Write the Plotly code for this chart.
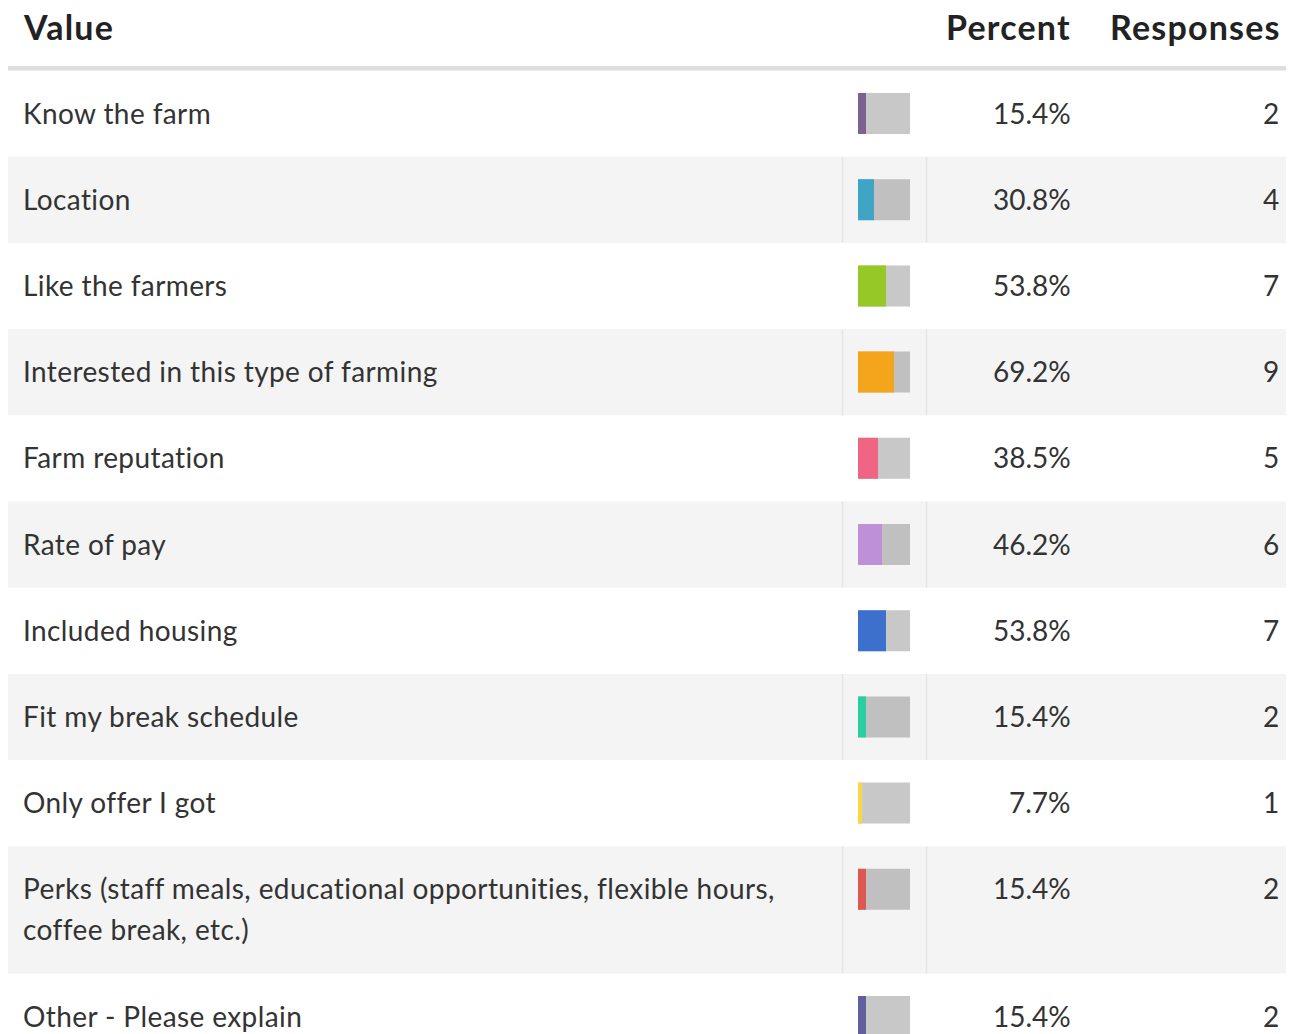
import plotly.graph_objects as go

labels = [
    "Know the farm",
    "Location",
    "Like the farmers",
    "Interested in this type of farming",
    "Farm reputation",
    "Rate of pay",
    "Included housing",
    "Fit my break schedule",
    "Only offer I got",
    "Perks (staff meals, educational opportunities, flexible hours,\ncoffee break, etc.)",
    "Other - Please explain",
]
percents = [15.4, 30.8, 53.8, 69.2, 38.5, 46.2, 53.8, 15.4, 7.7, 15.4, 15.4]
responses = [2, 4, 7, 9, 5, 6, 7, 2, 1, 2, 2]
colors = ["#7c6193", "#40a4c4", "#96c828", "#f4a51c", "#f06584", "#be90d8",
          "#3d6fcc", "#2acfa0", "#fcd545", "#dd5850", "#625f9e"]
headers = ["Value", "Percent", "Responses"]

W, H = 1294, 1034
OFF = 8  # page body margin compensation
FONT = "Lato, 'Open Sans', sans-serif"
ROW_H = 86.2
LINE_H = 41
BAR_X0, BAR_W, BAR_H = 858, 52, 41
BODY_SIZE = 28
HEAD_SIZE = 34


def spaced(t, px):
    return f'<span style="letter-spacing:{px}px">{t}</span>'


fig = go.Figure()
shapes = []
annotations = []

# header
shapes.append(dict(type="rect", xref="x", yref="y", x0=6, x1=W + OFF, y0=66, y1=70.5,
                   fillcolor="#dedede", line_width=0, layer="below"))
head = [
    dict(x=21, y=26, text=spaced(headers[0], 1.2), xanchor="left", yanchor="middle"),
    dict(x=1073, y=26, text=spaced(headers[1], 1.2), xanchor="right", yanchor="middle"),
    dict(x=1283, y=26, text=spaced(headers[2], 1.2), xanchor="right", yanchor="middle"),
]
for a in head:
    a.update(showarrow=False, font=dict(family=FONT, size=HEAD_SIZE, color="#222222", weight="bold"))
annotations += head

top = 70.5
for i, (lab, pct, resp, col) in enumerate(zip(labels, percents, responses, colors)):
    lines = lab.split("\n")
    h = ROW_H + (len(lines) - 1) * LINE_H
    gray = i % 2 == 1
    if gray:
        shapes.append(dict(type="rect", xref="x", yref="y", x0=6, x1=W + OFF, y0=top, y1=top + h,
                           fillcolor="#f4f4f4", line_width=0, layer="below"))
        for vx in (842.5, 926.5):
            shapes.append(dict(type="line", xref="x", yref="y", x0=vx, x1=vx, y0=top, y1=top + h,
                               line=dict(color="#e6e6e6", width=1.5), layer="below"))
    cy = top + 42
    for j, ln in enumerate(lines):
        annotations.append(dict(x=21, y=cy + j * LINE_H, text=spaced(ln, 0.4), xanchor="left",
                                yanchor="middle", showarrow=False,
                                font=dict(family=FONT, size=BODY_SIZE, color="#333333")))
    annotations.append(dict(x=1073, y=cy, text=f"{pct}%", xanchor="right", yanchor="middle",
                            showarrow=False, font=dict(family=FONT, size=BODY_SIZE, color="#333333")))
    annotations.append(dict(x=1281, y=cy, text=str(resp), xanchor="right", yanchor="middle",
                            showarrow=False, font=dict(family=FONT, size=BODY_SIZE, color="#333333")))
    # background bar
    fig.add_trace(go.Bar(orientation="h", y=[top + 43], x=[BAR_W], base=[BAR_X0], width=BAR_H,
                         marker=dict(color="#c0c0c0" if gray else "#c8c8c8", line_width=0),
                         hoverinfo="skip", showlegend=False))
    fig.add_trace(go.Bar(orientation="h", y=[top + 43], x=[BAR_W * pct / 100], base=[BAR_X0], width=BAR_H,
                         marker=dict(color=col, line_width=0),
                         hovertext=f"{lines[0]}: {pct}%", hoverinfo="text", showlegend=False))
    top += h

fig.update_layout(
    width=W, height=H, margin=dict(l=0, r=0, t=0, b=0),
    paper_bgcolor="white", plot_bgcolor="white",
    barmode="overlay",
    xaxis=dict(range=[OFF, W + OFF], visible=False, fixedrange=True),
    yaxis=dict(range=[H + OFF, OFF], visible=False, fixedrange=True),
    shapes=shapes, annotations=annotations,
)
fig.write_html("out.html")
